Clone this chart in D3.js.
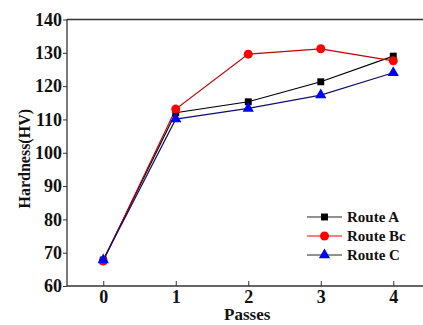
<!DOCTYPE html>
<html>
<head>
<meta charset="utf-8">
<script src="https://cdn.jsdelivr.net/npm/d3@7"></script>
<style>
  body { margin: 0; background: #fff; }
  svg { display: block; }
</style>
</head>
<body>
<div id="chart"></div>
<script>
const passes = [0, 1, 2, 3, 4];
const routeA = [67.8, 112.0, 115.3, 121.3, 129.0];
const routeBc = [67.5, 113.1, 129.6, 131.2, 127.6];
const routeC = [67.8, 110.1, 113.3, 117.3, 124.0];
const yTicks = [60, 70, 80, 90, 100, 110, 120, 130, 140];
const seriesNames = ["Route A", "Route Bc", "Route C"];

const width = 423, height = 325;
const margin = { top: 19.5, right: 0, bottom: 39, left: 67 };
const serif = "'Liberation Serif'";

const svg = d3.select("#chart").append("svg")
    .attr("width", width)
    .attr("height", height);

const x = d3.scaleLinear()
    .domain([-0.5, 4.41])
    .range([margin.left, width - margin.right]);
const y = d3.scaleLinear()
    .domain([60, 140])
    .range([height - margin.bottom, margin.top]);

const series = [
    { name: seriesNames[0], values: routeA, line: "#000", fill: "#000", symbol: d3.symbolSquare, size: 48 },
    { name: seriesNames[1], values: routeBc, line: "#c00000", fill: "#ff0000", symbol: d3.symbolCircle, size: 64 },
    { name: seriesNames[2], values: routeC, line: "#10106a", fill: "#0000ff", symbol: d3.symbolTriangle, size: 55 }
];

function txt(sel, size) {
    sel.style("font-family", serif)
        .style("font-weight", "bold")
        .style("font-size", size + "px")
        .attr("fill", "#111");
}

// frame: top line
svg.append("line")
    .attr("x1", margin.left).attr("x2", width)
    .attr("y1", y(140)).attr("y2", y(140))
    .attr("stroke", "#333").attr("stroke-width", 1.3);

const xAxis = svg.append("g")
    .attr("transform", `translate(0,${y(60)})`)
    .call(d3.axisBottom(x).tickValues(passes).tickSize(-5).tickPadding(4).tickFormat(d3.format("d")));
xAxis.select(".domain").attr("d", `M${margin.left},0H${width}`).attr("stroke", "#333").attr("stroke-width", 1.3);
xAxis.selectAll(".tick line").attr("stroke", "#333");
xAxis.selectAll("text").call(txt, 18);

const yAxis = svg.append("g")
    .attr("transform", `translate(${margin.left},0)`)
    .call(d3.axisLeft(y).tickValues(yTicks).tickSize(4).tickPadding(1));
yAxis.select(".domain").attr("d", `M0,${y(140)}V${y(60)}`).attr("stroke", "#333").attr("stroke-width", 1.3);
yAxis.selectAll(".tick line").attr("stroke", "#333");
yAxis.selectAll("text").call(txt, 18);

svg.append("text")
    .attr("x", x(2) - 1).attr("y", 320)
    .attr("text-anchor", "middle")
    .call(txt, 17)
    .text("Passes");

svg.append("text")
    .attr("transform", `translate(30,${(y(140) + y(60)) / 2 + 6}) rotate(-90)`)
    .attr("text-anchor", "middle")
    .call(txt, 16)
    .text("Hardness(HV)");

const line = d3.line()
    .x((d, i) => x(passes[i]))
    .y(d => y(d));

series.forEach(s => {
    svg.append("path")
        .datum(s.values)
        .attr("d", line)
        .attr("fill", "none")
        .attr("stroke", s.line)
        .attr("stroke-width", 1.2);
});

series.forEach(s => {
    svg.selectAll(null)
        .data(s.values)
        .enter()
        .append("path")
        .attr("transform", (d, i) => `translate(${x(passes[i])},${y(d)})`)
        .attr("d", d3.symbol().type(s.symbol).size(s.size))
        .attr("fill", s.fill);
});

// legend
const legend = svg.append("g").attr("transform", "translate(307,217)");
series.forEach((s, i) => {
    const g = legend.append("g").attr("transform", `translate(0,${i * 19})`);
    g.append("line")
        .attr("x1", 0).attr("x2", 35)
        .attr("stroke", i === 1 ? "#ff0000" : "#222")
        .attr("stroke-width", 1.2);
    g.append("path")
        .attr("transform", "translate(17.5,0)")
        .attr("d", d3.symbol().type(s.symbol).size(s.size))
        .attr("fill", s.fill);
    g.append("text")
        .attr("x", 40).attr("y", 5)
        .call(txt, 15)
        .text(s.name);
});
</script>
</body>
</html>
